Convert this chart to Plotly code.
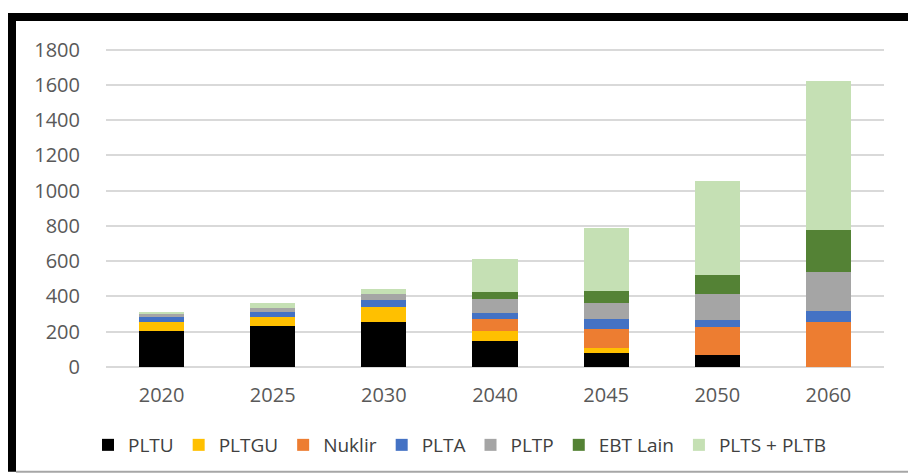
import plotly.graph_objects as go

years = ["2020", "2025", "2030", "2040", "2045", "2050", "2060"]

pltu = [203, 231, 258, 150, 80, 67, 0]
pltgu = [55, 53, 81, 52, 28, 0, 0]
nuklir = [0, 0, 0, 68, 107, 162, 255]
plta = [30, 26, 39, 38, 55, 40, 65]
pltp = [11, 25, 38, 80, 91, 146, 217]
ebt_lain = [0, 0, 0, 40, 69, 109, 240]
plts_pltb = [14, 30, 28, 187, 360, 533, 843]

names = ["PLTU", "PLTGU", "Nuklir", "PLTA", "PLTP", "EBT Lain", "PLTS + PLTB"]
series = [pltu, pltgu, nuklir, plta, pltp, ebt_lain, plts_pltb]
colors = ["#000000", "#FFC000", "#ED7D31", "#4472C4", "#A5A5A5", "#548235", "#C5E0B4"]

W, H = 908, 475
L, R, T, B = 106, 24, 46, 107
y_max = 1820

fig = go.Figure()
for name, vals, col in zip(names, series, colors):
    fig.add_bar(x=years, y=vals, name=name, marker=dict(color=col, line=dict(width=0)))


# pixel -> paper coords, for the frame around the picture
def px(x):
    return (x - L) / (W - L - R)


def py(y):
    return (H - B - y) / (H - T - B)


frame = [
    # thick black left and top edges, thin grey bottom edge
    dict(x0=px(8), x1=px(16), y0=py(473), y1=py(13), fillcolor="#000000"),
    dict(x0=px(8), x1=px(908), y0=py(21), y1=py(13), fillcolor="#000000"),
    dict(x0=px(16), x1=px(908), y0=py(474), y1=py(472), fillcolor="#a6a6a6"),
]
shapes = [dict(type="rect", xref="paper", yref="paper", line=dict(width=0), layer="above", **s) for s in frame]

fig.update_layout(
    width=W, height=H,
    margin=dict(l=L, r=R, t=T, b=B),
    barmode="stack",
    bargap=0.595,
    plot_bgcolor="white",
    paper_bgcolor="white",
    font=dict(family="Open Sans", size=20, color="#595959"),
    showlegend=True,
    legend=dict(orientation="h", traceorder="normal", x=px(88), xanchor="left",
                y=py(445), yanchor="middle", font=dict(size=19, color="#404040"),
                bgcolor="rgba(0,0,0,0)"),
    shapes=shapes,
)
fig.update_xaxes(showline=False, ticks="", showgrid=False, ticklabelstandoff=14)
fig.update_yaxes(range=[0, y_max], dtick=200, showgrid=True, gridcolor="#d9d9d9", gridwidth=2,
                 zeroline=True, zerolinecolor="#d9d9d9", zerolinewidth=2, ticks="",
                 ticklabelstandoff=25)

fig.write_html("out.html", config={"displayModeBar": False},
               post_script="document.body.style.margin='0';document.body.style.overflow='hidden';")
